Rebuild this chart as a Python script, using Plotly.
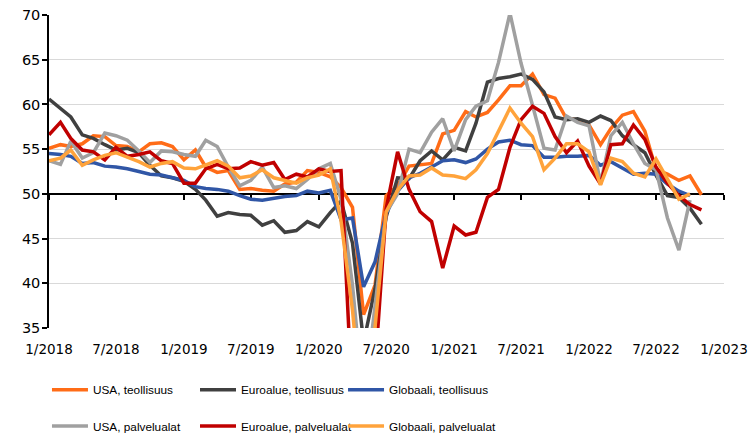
import plotly.graph_objects as go
import pandas as pd

# Monthly observations, first point plotted at 1/2018
months = pd.date_range("2018-01-01", periods=59, freq="MS")

tick_dates = ["2018-01-01", "2018-07-01", "2019-01-01", "2019-07-01", "2020-01-01",
              "2020-07-01", "2021-01-01", "2021-07-01", "2022-01-01", "2022-07-01",
              "2023-01-01"]
tick_labels = ["1/2018", "7/2018", "1/2019", "7/2019", "1/2020", "7/2020",
               "1/2021", "7/2021", "1/2022", "7/2022", "1/2023"]

usa_teollisuus = [55.1,
                  55.5, 55.3, 55.6, 56.5, 56.4, 55.4, 55.3, 54.7, 55.6, 55.7, 55.3, 53.8,
                  54.9, 53.0, 52.4, 52.6, 50.5, 50.6, 50.4, 50.3, 51.1, 51.3, 52.6, 52.4,
                  51.9, 50.7, 48.5, 36.5, 39.8, 49.8, 50.9, 53.1, 53.2, 53.4, 56.7, 57.1,
                  59.2, 58.6, 59.1, 60.5, 62.1, 62.1, 63.4, 61.1, 60.7, 58.4, 58.3, 57.7,
                  55.5, 57.3, 58.8, 59.2, 57.0, 52.7, 52.2, 51.5, 52.0, 49.9]

euroalue_teollisuus = [60.6,
                       59.6, 58.6, 56.6, 56.2, 55.5, 54.9, 55.1, 54.6, 53.2, 52.0, 51.8, 51.4,
                       50.5, 49.3, 47.5, 47.9, 47.7, 47.6, 46.5, 47.0, 45.7, 45.9, 46.9, 46.3,
                       47.9, 49.2, 44.5, 33.4, 39.4, 47.4, 51.8, 51.7, 53.7, 54.8, 53.8, 55.2,
                       54.8, 57.9, 62.5, 62.9, 63.1, 63.4, 62.8, 61.4, 58.6, 58.3, 58.4, 58.0,
                       58.7, 58.2, 56.5, 55.5, 54.6, 52.1, 49.8, 49.6, 48.4, 46.6]

globaali_teollisuus = [54.5,
                       54.4, 54.2, 53.4, 53.5, 53.1, 53.0, 52.8, 52.5, 52.2, 52.1, 51.8, 51.5,
                       50.8, 50.6, 50.5, 50.3, 49.8, 49.4, 49.3, 49.5, 49.7, 49.8, 50.3, 50.1,
                       50.4, 47.1, 47.3, 39.6, 42.4, 47.8, 50.3, 51.8, 52.3, 53.0, 53.7, 53.8,
                       53.5, 53.9, 55.0, 55.8, 56.0, 55.5, 55.4, 54.1, 54.1, 54.2, 54.2, 54.3,
                       53.2, 53.6, 52.9, 52.2, 52.3, 52.2, 51.1, 50.3, 49.8]

usa_palvelualat = [53.7,
                   53.3, 55.9, 54.0, 54.6, 56.8, 56.5, 56.0, 54.8, 53.5, 54.8, 54.7, 54.4,
                   54.2, 56.0, 55.3, 53.0, 50.9, 51.5, 53.0, 50.7, 50.9, 50.6, 51.6, 52.8,
                   53.4, 49.4, 39.8, 26.7, 37.5, 47.9, 50.0, 55.0, 54.6, 56.9, 58.4, 54.8,
                   58.3, 59.8, 60.4, 64.7, 70.2, 64.6, 59.9, 55.1, 54.9, 58.7, 58.0, 57.6,
                   51.2, 56.5, 58.0, 55.6, 53.4, 52.7, 47.3, 43.7, 49.3]

euroalue_palvelualat = [56.6,
                        58.0, 56.2, 54.9, 54.7, 53.8, 55.2, 54.2, 54.4, 54.7, 53.7, 53.4, 51.2,
                        51.2, 52.8, 53.3, 52.8, 52.9, 53.6, 53.2, 53.5, 51.6, 52.2, 51.9, 52.8,
                        52.5, 52.6, 26.4, 12.0, 30.5, 48.3, 54.7, 50.5, 48.0, 46.9, 41.7, 46.4,
                        45.4, 45.7, 49.6, 50.5, 55.2, 58.3, 59.8, 59.0, 56.4, 54.6, 55.9, 53.1,
                        51.1, 55.5, 55.6, 57.7, 56.1, 53.0, 51.2, 49.8, 48.8, 48.2]

globaali_palvelualat = [53.7,
                        54.0, 54.9, 53.2, 53.8, 54.3, 54.6, 54.1, 53.6, 53.0, 53.4, 53.6, 52.9,
                        52.8, 53.2, 53.7, 53.1, 51.8, 52.0, 52.7, 51.8, 51.5, 51.2, 51.8, 52.1,
                        52.8, 47.0, 37.0, 23.7, 35.1, 48.0, 50.4, 52.0, 52.1, 52.9, 52.1, 52.0,
                        51.7, 52.7, 54.5, 57.1, 59.6, 57.9, 56.4, 52.7, 54.0, 55.6, 55.6, 54.7,
                        51.0, 54.0, 53.6, 52.3, 51.9, 53.9, 51.7, 49.4, 50.0]

series_names = ["USA, teollisuus", "Euroalue, teollisuus", "Globaali, teollisuus",
                "USA, palvelualat", "Euroalue, palvelualat", "Globaali, palvelualat"]
series_values = [usa_teollisuus, euroalue_teollisuus, globaali_teollisuus,
                 usa_palvelualat, euroalue_palvelualat, globaali_palvelualat]
series_colors = ["#FF6C17", "#404040", "#3056A6", "#A0A0A0", "#C00000", "#FFA33B"]

# legend grid: 3 columns x 2 rows (paper coordinates)
legend_cols = [-0.003, 0.2163, 0.4356]
legend_rows = [-0.197, -0.313]

leg_font = dict(family="Liberation Sans, Arial", size=11.8, color="black")

fig = go.Figure()
legend_layouts = {}
for i, (name, vals, color) in enumerate(zip(series_names, series_values, series_colors)):
    leg_id = "legend" if i == 0 else f"legend{i + 1}"
    fig.add_trace(go.Scatter(
        x=months[:len(vals)], y=vals, name=name, mode="lines",
        line=dict(color=color, width=3.5), legend=leg_id,
    ))
    legend_layouts[leg_id] = dict(
        x=legend_cols[i % 3], y=legend_rows[i // 3], xanchor="left", yanchor="middle",
        orientation="h", itemwidth=36, font=leg_font, bgcolor="rgba(0,0,0,0)",
    )

# helper trace so the axis line at 50 is drawn
fig.add_trace(go.Scatter(x=[months[0]], y=[50], xaxis="x2", yaxis="y", mode="markers",
                         marker=dict(opacity=0), showlegend=False, hoverinfo="skip"))

xtick_font = dict(family="DejaVu Sans", size=13.5, color="black")
ytick_font = dict(family="DejaVu Sans", size=14.5, color="black")
xr = ["2018-01-01", "2023-01-01"]

fig.update_layout(
    width=754, height=433,
    margin=dict(l=49, r=30, t=15, b=105, autoexpand=False),
    plot_bgcolor="white", paper_bgcolor="white",
    xaxis=dict(type="date", range=xr, tickvals=tick_dates, ticktext=tick_labels,
               showgrid=False, showline=False, zeroline=False, ticks="",
               tickfont=xtick_font, ticklabelstandoff=11),
    xaxis2=dict(type="date", range=xr, overlaying="x", anchor="free", position=15 / 35,
                tickvals=tick_dates, showticklabels=False, showgrid=False, zeroline=False,
                showline=True, linecolor="black", linewidth=1.5,
                ticks="outside", ticklen=5, tickwidth=1.5, tickcolor="black",
                side="bottom", layer="below traces"),
    yaxis=dict(range=[35, 70], tick0=35, dtick=5, showline=True, linecolor="black",
               linewidth=1.5, ticks="outside", ticklen=5, tickwidth=1.5, tickcolor="black",
               gridcolor="#D9D9D9", gridwidth=1, zeroline=False, tickfont=ytick_font,
               ticklabelstandoff=-1, layer="below traces"),
    showlegend=True,
    **legend_layouts,
)

fig.write_html("out.html", config={"displayModeBar": False},
               post_script="document.body.style.margin='0px';")
